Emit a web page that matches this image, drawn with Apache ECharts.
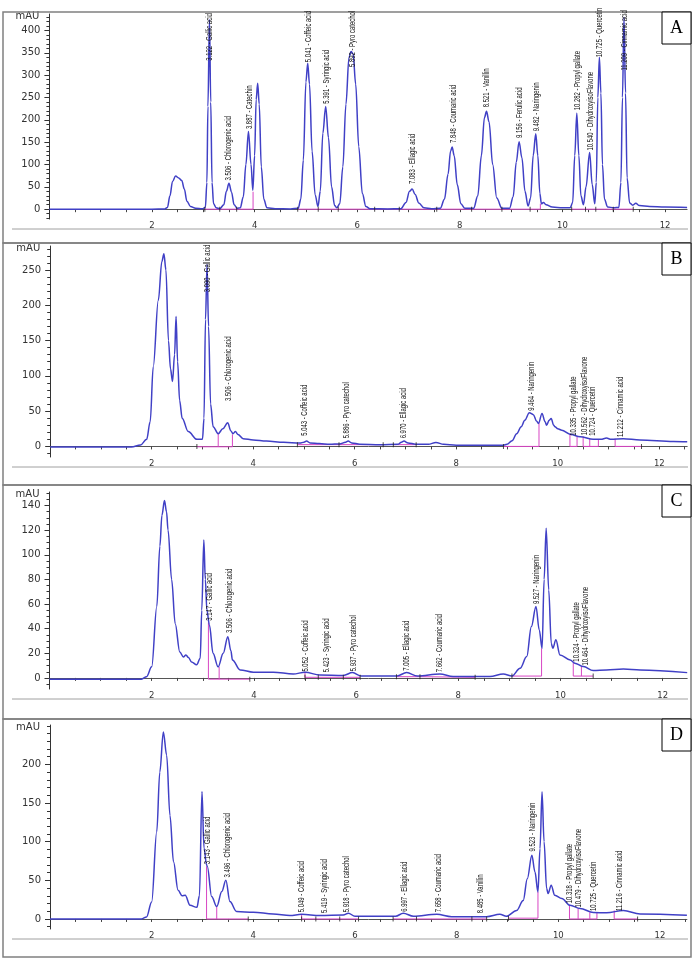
<!DOCTYPE html>
<html>
<head>
<meta charset="utf-8">
<script src="https://cdn.jsdelivr.net/npm/echarts@6/dist/echarts.min.js"></script>
<style>
html, body { margin: 0; padding: 0; background: #fff; }
#chart { width: 695px; height: 959px; }
</style>
</head>
<body>
<div id="chart"></div>
<script>
// Chromatogram traces: [retention time (min), mAU]
const traceA = [[0,0],[1,0],[2,0],[2.25,0.5],[2.3,4],[2.35,30],[2.4,62],[2.46,74],[2.52,70],[2.58,64],[2.63,45],[2.68,18],[2.75,6],[2.85,2],[2.98,1],
  [3.04,4],[3.07,60],[3.09,230],[3.12,425],[3.145,240],[3.17,60],[3.2,12],[3.25,3],[3.32,1],
  [3.4,10],[3.45,40],[3.5,58],[3.55,38],[3.6,10],[3.66,2],
  [3.72,3],[3.78,28],[3.83,100],[3.88,174],[3.93,100],[3.965,42],[4.0,120],[4.03,245],[4.06,282],[4.09,235],[4.13,95],[4.18,22],[4.24,3],[4.4,1],[4.7,0.5],
  [4.85,2],[4.9,22],[4.95,110],[5.0,285],[5.035,327],[5.07,280],[5.12,130],[5.18,32],[5.235,6],
  [5.28,40],[5.33,170],[5.385,230],[5.44,160],[5.5,50],[5.56,8],[5.6,3],
  [5.66,12],[5.72,95],[5.78,235],[5.84,340],[5.88,353],[5.92,348],[5.97,280],[6.03,140],[6.1,35],[6.17,6],[6.25,1],[6.6,0.5],
  [6.85,1],[6.95,15],[7.02,40],[7.07,45],[7.13,33],[7.2,14],[7.3,3],[7.45,1],
  [7.62,2],[7.7,22],[7.77,78],[7.82,130],[7.85,139],[7.89,120],[7.95,55],[8.02,12],[8.1,2],
  [8.27,2],[8.35,30],[8.42,120],[8.48,205],[8.52,219],[8.57,195],[8.64,100],[8.72,25],[8.82,2],
  [8.97,2],[9.04,28],[9.1,105],[9.155,151],[9.21,115],[9.27,40],[9.33,7],
  [9.38,25],[9.43,120],[9.48,169],[9.52,120],[9.56,35],[9.59,12],[9.63,15],[9.68,10],[9.8,5],[10.0,3],[10.15,3],
  [10.2,15],[10.24,120],[10.28,215],[10.32,120],[10.36,30],[10.41,10],[10.46,50],[10.53,127],[10.58,55],[10.63,12],
  [10.66,60],[10.69,250],[10.72,340],[10.75,260],[10.78,100],[10.82,22],[10.88,5],[11.0,3],
  [11.1,4],[11.14,60],[11.17,250],[11.2,430],[11.23,260],[11.26,70],[11.31,14],[11.37,9],[11.43,13],[11.5,8],[11.7,6],[12.0,5],[12.43,4]];

const traceB = [[0,-1],[1,-1],[1.6,-1],[1.78,2],[1.9,10],[1.97,35],[2.03,113],[2.13,207],[2.2,262],[2.24,273],[2.28,250],[2.33,150],[2.37,110],[2.41,92],
  [2.45,130],[2.48,184],[2.51,120],[2.55,65],[2.6,40],[2.72,21],[2.89,10],[3.0,10],
  [3.03,40],[3.06,180],[3.09,258],[3.12,170],[3.16,60],[3.21,28],[3.31,18],
  [3.4,25],[3.497,33.5],[3.56,22],[3.6,18],[3.65,21],[3.7,17],[3.8,11],[4.0,9],[4.26,7.5],[4.6,6],[4.92,4.7],[5.0,6],[5.05,7.5],[5.12,5],[5.3,4],[5.51,3],
  [5.7,3.5],[5.82,6],[5.87,7.5],[5.94,5],[6.1,3],[6.5,2.5],[6.85,3],[6.92,6],[6.97,7.5],[7.05,5],[7.2,3],[7.45,3],[7.6,5.6],[7.75,3],[8.0,1.8],[8.5,1.5],
  [8.93,1.8],[9.0,3],[9.1,8],[9.19,18],[9.28,28],[9.35,37],[9.44,47.7],[9.52,45],[9.58,36],[9.62,32.6],[9.69,46.8],[9.75,35],[9.78,30],[9.83,37],
  [9.87,39.7],[9.92,30],[9.945,27.8],[10.0,25],[10.08,23],[10.24,17.4],[10.44,13.6],[10.7,10],[10.85,10],[10.96,11.8],[11.05,10],[11.29,11],[11.62,9],[12.28,7],[12.55,6.6]];

const traceC = [[0,-1],[1,-1],[1.8,-1],[1.9,1],[2.0,9],[2.1,58],[2.16,107],[2.2,132],[2.25,144],[2.29,135],[2.32,120],[2.39,80],[2.46,44],[2.55,21],[2.62,17],
  [2.67,18.7],[2.72,16.5],[2.78,13],[2.88,10.6],[2.95,16],[2.98,55],[3.02,112],[3.05,80],[3.08,55],[3.13,43],[3.2,20],[3.3,9],[3.4,20],[3.49,33.5],
  [3.55,22],[3.58,14.6],[3.73,6.5],[3.99,4.6],[4.38,4.6],[4.77,3.2],[5.0,4.6],[5.29,2.4],[5.75,2],[5.93,4.3],[6.1,1.6],[6.8,1.6],[6.99,4.3],[7.2,1.5],
  [7.64,3.2],[7.9,1.2],[8.62,1.1],[8.88,3.2],[9.05,1.6],[9.21,7.9],[9.34,17.3],[9.43,41.7],[9.52,58],[9.585,39],[9.64,24],[9.68,80],[9.72,121.6],
  [9.77,71.5],[9.82,28],[9.85,24],[9.91,31],[9.99,18.7],[10.19,14.6],[10.28,12],[10.45,9.2],[10.64,6],[10.9,6.5],[11.23,7.3],[11.56,6.5],[12.48,4.3]];

const traceD = [[0,0],[1,0],[1.8,0],[1.9,2.6],[2.0,22],[2.1,112.7],[2.16,190],[2.23,242],[2.295,212],[2.36,134],[2.43,74],[2.52,37],[2.6,30],[2.66,30.7],
  [2.755,17.7],[2.89,15],[2.94,30],[2.99,165],[3.03,91.6],[3.08,70],[3.095,68],[3.18,29],[3.28,16],[3.38,35.5],[3.46,50],[3.54,22.5],[3.67,9.6],
  [4.0,8.7],[4.39,6.5],[4.72,4.4],[4.95,6],[5.31,4.4],[5.77,5],[5.87,7.4],[6.0,3.5],[6.8,3.5],[6.95,7.4],[7.15,3.5],[7.61,6],[7.9,3],[8.59,3],[8.85,6],
  [8.98,3.5],[9.18,11],[9.31,24],[9.39,52],[9.48,82.5],[9.54,61],[9.6,35],[9.64,91],[9.68,164.5],[9.72,100],[9.77,39.4],[9.8,33],[9.86,43.7],
  [9.93,30.7],[10.07,26.4],[10.23,17.7],[10.43,13.5],[10.69,8.3],[10.95,8],[11.28,11],[11.61,6.5],[12.53,4.8]];

// Peak annotations: text, and where the text starts [time, mAU]
const labelTextA = ['3.122 - Gallic acid', '3.506 - Chlorogenic acid', '3.887 - Catechin', '5.041 - Coffeic acid', '5.391 - Syringic acid',
  '5.892 - Pyro catechol', '7.083 - Ellagic acid', '7.848 - Coumaric acid', '8.521 - Vanillin', '9.156 - Ferulic acid', '9.482 - Naringenin',
  '10.282 - Propyl gallate', '10.540 - DihydroxyisoFlavone', '10.725 - Quercetin', '11.209 - Cinnamic acid'];
const labelAtA = [[3.12,330],[3.5,62],[3.9,177],[5.05,327],[5.4,234],[5.91,316],[7.08,54],[7.87,146],[8.52,226],[9.17,157],[9.5,172],
  [10.3,219],[10.55,129],[10.73,338],[11.21,308]];

const labelTextB = ['3.090 - Gallic acid', '3.506 - Chlorogenic acid', '5.043 - Coffeic acid', '5.886 - Pyro catechol', '6.970 - Ellagic acid',
  '9.464 - Naringenin', '10.335 - Propyl gallate', '10.562 - DihydroxyisoFlavone', '10.724 - Quercetin', '11.212 - Cinnamic acid'];
const labelAtB = [[3.095,217],[3.51,63],[5.02,13.6],[5.84,10],[6.96,10],[9.49,49],[10.31,13.6],[10.52,14.5],[10.69,13.6],[11.23,12]];

const labelTextC = ['3.147 - Gallic acid', '3.506 - Chlorogenic acid', '5.052 - Coffeic acid', '5.423 - Syringic acid', '5.937 - Pyro catechol',
  '7.005 - Ellagic acid', '7.662 - Coumaric acid', '9.527 - Naringenin', '10.324 - Propyl gallate', '10.464 - DihydroxyisoFlavone'];
const labelAtC = [[3.13,45.7],[3.52,35.7],[5.02,4.3],[5.42,3.8],[5.95,4.6],[6.99,5],[7.64,3.8],[9.53,59.3],[10.32,12.4],[10.49,9.2]];

const labelTextD = ['3.143 - Gallic acid', '3.496 - Chlorogenic acid', '5.049 - Coffeic acid', '5.419 - Syringic acid', '5.918 - Pyro catechol',
  '6.997 - Ellagic acid', '7.658 - Coumaric acid', '8.485 - Vanillin', '9.523 - Naringenin', '10.318 - Propyl gallate',
  '10.479 - DihydroxyisoFlavone', '10.725 - Quercetin', '11.216 - Cinnamic acid'];
const labelAtD = [[3.095,69.6],[3.49,52.3],[4.95,7.4],[5.41,6.5],[5.835,7.4],[6.98,8],[7.65,7.4],[8.46,6],[9.49,86],[10.23,19],[10.39,13.5],[10.7,9],[11.21,9]];

// Integration baselines (pink) and peak start/end marks
const baseA = [[[3.03,0],[3.97,0],[3.97,39]], [[4.84,0],[9.57,0],[9.57,12]], [[10.18,0],[11.38,0]]];
const baseB = [[[2.89,-0.5],[3.59,-0.5],[3.59,17]], [[3.31,-0.5],[3.31,18]], [[4.87,2.5],[6.56,2.5]], [[6.76,2.5],[7.21,2.5]],
  [[8.93,0],[9.63,0],[9.63,33]], [[10.24,17],[10.24,0],[10.38,0],[10.38,14]], [[10.5,14],[10.5,0],[10.8,0],[10.8,10]],
  [[10.63,0],[10.63,11]], [[11.13,11],[11.13,0],[11.65,0]]];
const baseC = [[[3.11,45],[3.11,-1],[3.92,-1]], [[3.32,-1],[3.32,9]], [[5.0,4.6],[5.0,0.5],[6.08,0.5]], [[6.79,1],[7.25,1],[8.33,0.5]],
  [[9.05,1.5],[9.63,1.5],[9.63,24]], [[10.25,12],[10.25,1.5],[10.64,1.5]], [[10.41,1.5],[10.41,9]]];
const baseD = [[[3.08,68],[3.08,0],[3.9,0]], [[3.28,0],[3.28,16]], [[4.95,6],[4.95,0],[6.07,0]], [[6.75,0],[8.59,0]],
  [[9.02,1],[9.6,1],[9.6,35]], [[10.22,17.7],[10.22,0],[10.76,0],[10.76,8]], [[10.39,0],[10.39,13.5]], [[10.62,0],[10.62,8.5]],
  [[11.1,11],[11.1,0],[11.56,0]]];

const eventsA = [[3.03,0],[3.32,0],[3.65,0],[4.84,0],[5.24,0],[5.63,0],[6.34,0],[6.82,0],[7.55,0],[8.23,0],[8.82,0],[9.37,0],[10.18,0],[10.45,0],[10.65,0],[10.99,0],[11.38,0]];
const eventsB = [[2.89,0],[4.87,2.5],[5.69,2.5],[6.56,2.5],[6.76,2.5],[7.21,2.5],[8.93,0],[11.65,0]];
const eventsC = [[3.92,-1],[5.0,0.5],[5.26,0.5],[5.75,0.5],[6.08,0.5],[6.79,1],[7.25,1],[8.33,0.5],[9.05,1.5],[10.64,1.5]];
const eventsD = [[3.9,0],[4.95,0],[5.23,0],[5.7,0],[6.07,0],[6.75,0],[7.21,0],[8.3,0],[8.59,0],[9.02,1],[11.56,0]];

// Axis tick labels
const xLabelValues = [2, 4, 6, 8, 10, 12];
const yTicksA = [0, 50, 100, 150, 200, 250, 300, 350, 400];
const yTicksB = [0, 50, 100, 150, 200, 250];
const yTicksC = [0, 20, 40, 60, 80, 100, 120, 140];
const yTicksD = [0, 50, 100, 150, 200];

// panel layout (pixels) and axis extents
const panels = [
  { letter: 'A', trace: traceA, text: labelTextA, at: labelAtA, base: baseA, events: eventsA, yTicks: yTicksA, minor: 10,
    yMin: -22, yMax: 437, xMax: 12.43, grid: { left: 49.4, top: 14, width: 637.7, height: 205 }, frameTop: 12, frameBottom: 243, rule: 229 },
  { letter: 'B', trace: traceB, text: labelTextB, at: labelAtB, base: baseB, events: eventsB, yTicks: yTicksB, minor: 10,
    yMin: -15, yMax: 284, xMax: 12.55, grid: { left: 50.2, top: 246, width: 637, height: 211 }, frameTop: 243, frameBottom: 485, rule: 467 },
  { letter: 'C', trace: traceC, text: labelTextC, at: labelAtC, base: baseC, events: eventsC, yTicks: yTicksC, minor: 5,
    yMin: -9, yMax: 151, xMax: 12.48, grid: { left: 49.5, top: 492, width: 637.7, height: 197 }, frameTop: 485, frameBottom: 719, rule: 699 },
  { letter: 'D', trace: traceD, text: labelTextD, at: labelAtD, base: baseD, events: eventsD, yTicks: yTicksD, minor: 10,
    yMin: -13, yMax: 251, xMax: 12.53, grid: { left: 50, top: 725, width: 636.9, height: 204 }, frameTop: 719, frameBottom: 957, rule: 939 }
];

function steps(from, to, step) {
  const out = [];
  for (let v = from; v <= to + 1e-9; v += step) out.push(Math.round(v * 100) / 100);
  return out;
}

const AXIS_FONT = 'DejaVu Sans';
const PEAK_FONT = '9px "Liberation Sans", Arial, sans-serif';
const PEAK_SQUEEZE = 0.66; // the peak names are printed in a very narrow face
const TRACE_COLOR = '#4040c6';
const BASE_COLOR = '#d846c4';

const grids = [], xAxes = [], yAxes = [], series = [], graphics = [];

panels.forEach((p, i) => {
  grids.push(Object.assign({ outerBoundsMode: 'none' }, p.grid));

  const xTicks = steps(0.5, p.xMax, 0.5);
  xAxes.push({
    gridIndex: i, type: 'value', min: 0, max: p.xMax,
    axisLine: { show: true, lineStyle: { color: '#555', width: 1 } },
    axisTick: { show: true, customValues: xTicks, length: 3, lineStyle: { color: '#444' } },
    axisLabel: { customValues: xLabelValues, fontFamily: AXIS_FONT, fontSize: 8.5, color: '#333', margin: 2 },
    splitLine: { show: false }
  });

  const minorTicks = steps(Math.ceil(p.yMin / p.minor) * p.minor, p.yMax, p.minor)
    .filter(v => p.yTicks.indexOf(v) < 0);
  yAxes.push({
    gridIndex: i, type: 'value', position: 'left', min: p.yMin, max: p.yMax,
    name: 'mAU', nameLocation: 'end', nameGap: -2,
    nameTextStyle: { fontFamily: AXIS_FONT, fontSize: 10, color: '#333', align: 'right', verticalAlign: 'middle', padding: [0, 10, 0, 0] },
    axisLine: { show: true, lineStyle: { color: '#333', width: 1 } },
    axisTick: { show: true, customValues: p.yTicks, length: 5, lineStyle: { color: '#333' } },
    axisLabel: { customValues: p.yTicks, fontFamily: AXIS_FONT, fontSize: 10, color: '#333', margin: 9 },
    splitLine: { show: false }
  });
  yAxes.push({
    gridIndex: i, type: 'value', position: 'left', min: p.yMin, max: p.yMax,
    axisLine: { show: false },
    axisTick: { show: true, customValues: minorTicks, length: 3, lineStyle: { color: '#333' } },
    axisLabel: { show: false },
    splitLine: { show: false }
  });

  const yi = i * 2;
  series.push({
    type: 'lines', coordinateSystem: 'cartesian2d', xAxisIndex: i, yAxisIndex: yi, polyline: true, silent: true, z: 2,
    lineStyle: { color: BASE_COLOR, width: 1, opacity: 1 },
    data: p.base.map(c => ({ coords: c }))
  });
  series.push({
    type: 'line', xAxisIndex: i, yAxisIndex: yi, data: p.trace, showSymbol: false, smooth: 0.35, smoothMonotone: 'x',
    silent: true, z: 3, lineStyle: { color: TRACE_COLOR, width: 1.5 }
  });
  series.push({
    type: 'scatter', xAxisIndex: i, yAxisIndex: yi, data: p.events, symbol: 'rect', symbolSize: [1, 5], silent: true, z: 4,
    itemStyle: { color: '#222' }
  });
  // vertical peak names, reading upward from the peak
  series.push({
    type: 'custom', xAxisIndex: i, yAxisIndex: yi, silent: true, z: 5,
    data: p.at,
    renderItem: (params, api) => {
      const pt = api.coord([api.value(0), api.value(1)]);
      return {
        type: 'text', x: pt[0], y: pt[1] - 1, rotation: Math.PI / 2, scaleX: PEAK_SQUEEZE,
        style: { text: p.text[params.dataIndex], font: PEAK_FONT, fill: '#111', align: 'left', verticalAlign: 'middle' }
      };
    }
  });

  // panel frame, lower rule and corner letter
  graphics.push({
    type: 'rect', shape: { x: 3, y: p.frameTop, width: 688, height: p.frameBottom - p.frameTop },
    style: { fill: 'none', stroke: '#808080', lineWidth: 1.5 }, z: 1
  });
  graphics.push({
    type: 'line', shape: { x1: 12, y1: p.rule, x2: 688, y2: p.rule },
    style: { stroke: '#a0a0a0', lineWidth: 1 }, z: 1
  });
  graphics.push({
    type: 'rect', shape: { x: 662, y: p.frameTop, width: 29, height: 32 },
    style: { fill: '#fff', stroke: '#000', lineWidth: 1 }, z: 10
  });
  graphics.push({
    type: 'text', x: 676.5, y: p.frameTop + 16.5,
    style: { text: p.letter, font: '18px "Liberation Serif", serif', fill: '#000', align: 'center', verticalAlign: 'middle' }, z: 11
  });
});

const chart = echarts.init(document.getElementById('chart'), null, { renderer: 'canvas' });
chart.setOption({
  backgroundColor: '#fff',
  animation: false,
  textStyle: { fontFamily: AXIS_FONT },
  grid: grids,
  xAxis: xAxes,
  yAxis: yAxes,
  series: series,
  graphic: graphics
});
</script>
</body>
</html>
